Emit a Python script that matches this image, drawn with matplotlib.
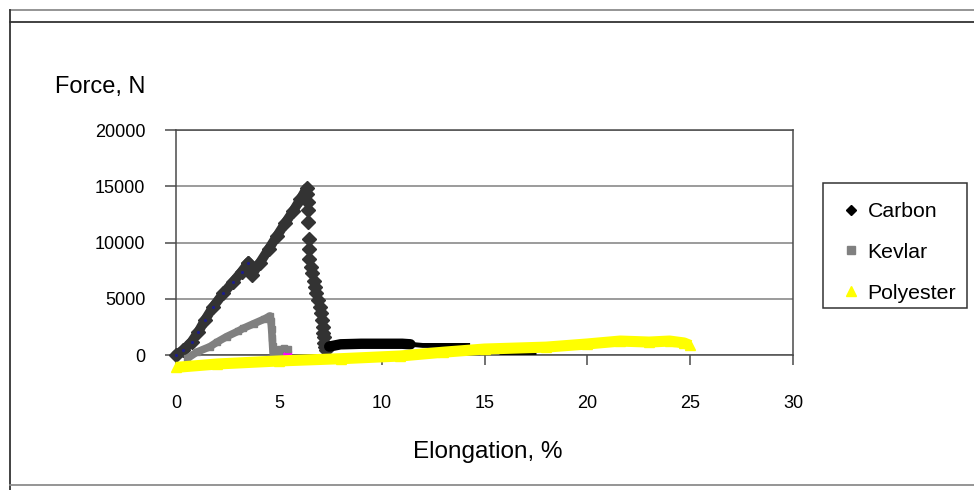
import matplotlib
matplotlib.use("Agg")
import matplotlib.pyplot as plt
from matplotlib.lines import Line2D
from matplotlib.patches import Rectangle

plt.rcParams['font.family'] = ['Liberation Sans', 'DejaVu Sans']

# Carbon: loading ramp, step, second ramp up to the peak
carbon_rise_x = [0.0, 0.36, 0.76, 1.09, 1.41, 1.81, 2.30, 2.79, 3.19, 3.52]
carbon_rise_y = [0, 440, 1180, 2070, 3110, 4290, 5480, 6520, 7400, 8200]
carbon_ramp_x = [3.52, 3.68, 4.08, 4.50, 4.90, 5.30, 5.70, 6.05, 6.35]
carbon_ramp_y = [8200, 7110, 8200, 9400, 10550, 11700, 12800, 13850, 14820]
# Carbon: failure, separate points on the way down
carbon_drop_x = [6.38, 6.40, 6.42, 6.43, 6.45, 6.46, 6.48, 6.55, 6.62, 6.70, 6.76,
                 6.83, 6.90, 6.98, 7.05, 7.10, 7.15, 7.17, 7.19, 7.22, 7.24, 7.30]
carbon_drop_y = [14300, 13600, 12900, 11800, 10300, 9400, 8500, 7800, 7300, 6600, 6050,
                 5500, 4900, 4300, 3700, 3100, 2500, 2000, 1600, 1100, 700, 450]
# Carbon: residual load after failure
carbon_tail_x = [7.45, 8.0, 9.0, 10.0, 11.0, 11.4, 12.0, 13.0, 14.3]
carbon_tail_y = [750, 950, 1000, 1000, 1000, 950, 850, 850, 850]
carbon_low_x = [15.7, 16.5, 17.5]
carbon_low_y = [300, 300, 300]

kevlar_x = [0.55, 1.0, 1.65, 2.0, 2.46, 3.0, 3.27, 3.8, 4.3, 4.57, 4.62, 4.65, 4.68, 4.70, 4.72, 4.80, 5.0]
kevlar_y = [-300, 250, 740, 1150, 1630, 2100, 2370, 2800, 3200, 3470, 3000, 2300, 1500, 800, 200, 0, 0]
kevlar_bump_x = [5.05, 5.25, 5.45]
kevlar_bump_y = [550, 600, 550]

extra_x = [5.2, 5.45]
extra_y = [120, 120]

polyester_x = [0.0, 2.0, 5.0, 8.0, 10.9, 13.0, 15.0, 18.0, 20.0, 21.6, 23.0, 24.0, 24.7, 25.0]
polyester_y = [-1100, -800, -530, -330, -90, 250, 530, 700, 980, 1240, 1150, 1240, 1070, 850]

x_ticks = [0, 5, 10, 15, 20, 25, 30]
y_ticks = [0, 5000, 10000, 15000, 20000]

W, H = 974, 490
fig = plt.figure(figsize=(W / 100, H / 100), dpi=100)
fig.patch.set_facecolor('white')
ax = fig.add_axes([176 / W, 1 - 355 / H, (793 - 176) / W, (355 - 130) / H])

ax.set_xlim(0, 30)
ax.set_ylim(0, 20000)
ax.set_xticks(x_ticks)
ax.set_yticks(y_ticks)
ax.yaxis.grid(True, color='#808080', lw=1.1)
ax.set_axisbelow(True)
for s in ax.spines.values():
    s.set_color('#4a4a4a')
    s.set_linewidth(1.1)
ax.tick_params(axis='y', direction='out', length=8, width=1.1, color='#4a4a4a', pad=14, labelsize=13)
ax.tick_params(axis='x', direction='out', length=7, width=1.1, color='#4a4a4a', pad=22, labelsize=13)

c_carbon = '#333333'
# dense marker runs drawn as a thick band plus the markers
ax.plot(carbon_rise_x, carbon_rise_y, color=c_carbon, lw=7, marker='D', ms=7,
        solid_capstyle='round', clip_on=False, zorder=3)
ax.plot(carbon_rise_x, carbon_rise_y, color='#1c1c8c', lw=0, marker='.', ms=2.5,
        clip_on=False, zorder=3.1)
ax.plot(carbon_ramp_x, carbon_ramp_y, color=c_carbon, lw=7, marker='D', ms=7,
        solid_capstyle='round', clip_on=False, zorder=3)
ax.plot(carbon_drop_x, carbon_drop_y, color=c_carbon, lw=0, marker='D', ms=7,
        clip_on=False, zorder=3)
ax.plot(carbon_tail_x[:6], carbon_tail_y[:6], color='black', lw=7.5,
        solid_capstyle='round', clip_on=False, zorder=3)
ax.plot(carbon_tail_x[5:], carbon_tail_y[5:], color='black', lw=3.5,
        solid_capstyle='butt', clip_on=False, zorder=3)
ax.plot(carbon_low_x, carbon_low_y, color='black', lw=3.5,
        solid_capstyle='butt', clip_on=False, zorder=3)

c_kevlar = '#808080'
ax.plot(kevlar_x, kevlar_y, color=c_kevlar, lw=5.5, marker='s', ms=5,
        solid_capstyle='butt', clip_on=False, zorder=4)
ax.plot(kevlar_bump_x, kevlar_bump_y, color=c_kevlar, lw=4, marker='s', ms=5,
        clip_on=False, zorder=4)
ax.plot(extra_x, extra_y, color='#ff00ff', lw=0, marker='s', ms=4,
        clip_on=False, zorder=3.5)

c_poly = '#ffff00'
ax.plot(polyester_x, polyester_y, color=c_poly, lw=8, marker='^', ms=7.5,
        solid_capstyle='butt', clip_on=False, zorder=5)

# axis titles
fig.text(488 / W, 1 - 452 / H, 'Elongation, %', fontsize=17.5, ha='center', va='center')
fig.text(55 / W, 1 - 87 / H, 'Force, N', fontsize=17, ha='left', va='center')

# legend entries, frame drawn separately
handles = [
    Line2D([], [], ls='none', marker='D', ms=5.5, color='black'),
    Line2D([], [], ls='none', marker='s', ms=5.5, color=c_kevlar),
    Line2D([], [], ls='none', marker='^', ms=6.5, color=c_poly),
]
leg = fig.legend(handles, ['Carbon', 'Kevlar', 'Polyester'], loc='upper left',
                 bbox_to_anchor=(840 / W, 1 - 202 / H), borderaxespad=0,
                 fontsize=15.3, frameon=False, borderpad=0,
                 handlelength=1.0, handletextpad=0.3, labelspacing=1.03)
fig.add_artist(Rectangle((823 / W, 1 - 308 / H), (967 - 823) / W, (308 - 183) / H,
                         transform=fig.transFigure, fill=False,
                         edgecolor='#333333', lw=1.1))

# outer chart frame
frame = [
    ([10, W], [10, 10], '#8c8c8c'),
    ([10, W], [22, 22], '#333333'),
    ([10, 10], [10, H], '#333333'),
    ([10, W], [485, 485], '#8c8c8c'),
]
for xs, ys, col in frame:
    fig.add_artist(Line2D([x / W for x in xs], [1 - y / H for y in ys],
                          transform=fig.transFigure, color=col, lw=1.3))

fig.savefig('out.png', dpi=100)
